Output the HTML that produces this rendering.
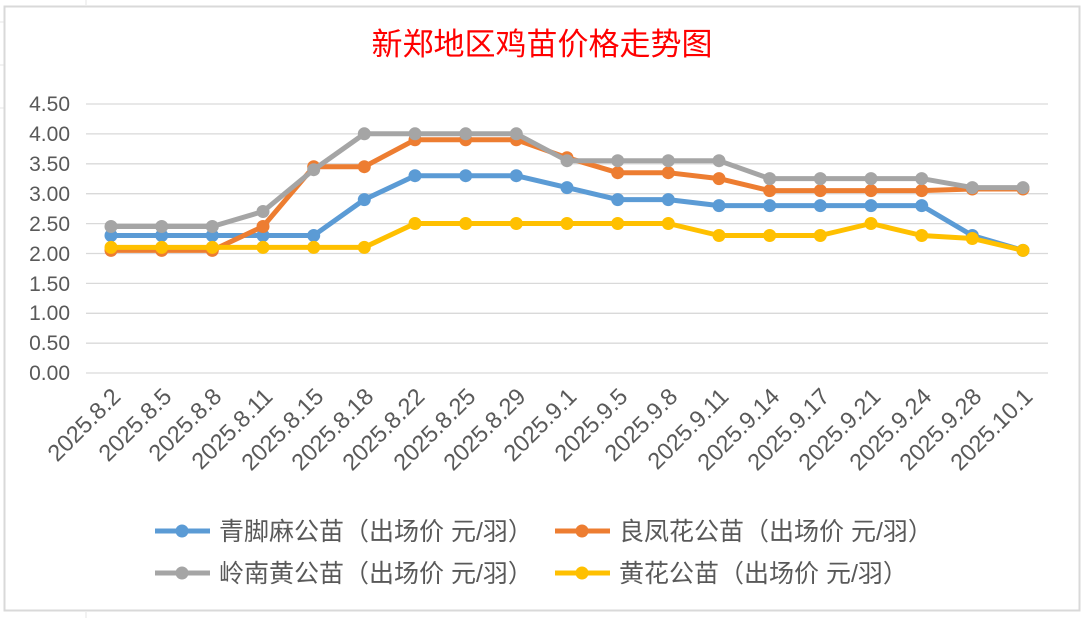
<!DOCTYPE html>
<html><head><meta charset="utf-8"><style>
html,body{margin:0;padding:0;background:#fff;}
svg{display:block;}
text{font-family:"Liberation Sans","Noto Sans CJK SC",sans-serif;}
</style></head><body>
<svg width="1085" height="618" viewBox="0 0 1085 618" xmlns="http://www.w3.org/2000/svg">
<rect x="0" y="0" width="1085" height="618" fill="#fff"/>
<g stroke="#e6e6e6" stroke-width="1">
<line x1="86" y1="0" x2="86" y2="5"/><line x1="0" y1="22" x2="4" y2="22"/><line x1="0" y1="65" x2="4" y2="65"/>
<line x1="86" y1="612" x2="86" y2="618"/><line x1="0" y1="108" x2="4" y2="108"/>
</g>
<rect x="4.5" y="6.5" width="1075" height="604" fill="#fff" stroke="#d9d9d9" stroke-width="2"/>
<text x="542" y="55" font-size="31" fill="#ff0000" text-anchor="middle" font-family="Liberation Serif,'Noto Serif CJK SC',serif">新郑地区鸡苗价格走势图</text>
<g stroke="#d9d9d9" stroke-width="1.3">
<line x1="86" y1="104" x2="1048" y2="104"/><line x1="86" y1="133.9" x2="1048" y2="133.9"/>
<line x1="86" y1="163.8" x2="1048" y2="163.8"/><line x1="86" y1="193.7" x2="1048" y2="193.7"/>
<line x1="86" y1="223.6" x2="1048" y2="223.6"/><line x1="86" y1="253.5" x2="1048" y2="253.5"/>
<line x1="86" y1="283.4" x2="1048" y2="283.4"/><line x1="86" y1="313.3" x2="1048" y2="313.3"/>
<line x1="86" y1="343.2" x2="1048" y2="343.2"/><line x1="86" y1="373" x2="1048" y2="373"/>
</g>
<g font-size="21" fill="#595959" text-anchor="end">
<text x="70" y="111">4.50</text><text x="70" y="141">4.00</text><text x="70" y="171">3.50</text>
<text x="70" y="201">3.00</text><text x="70" y="231">2.50</text><text x="70" y="261">2.00</text>
<text x="70" y="291">1.50</text><text x="70" y="320">1.00</text><text x="70" y="350">0.50</text>
<text x="70" y="380">0.00</text>
</g>
<g font-size="23.5" fill="#595959" text-anchor="end">
<text transform="translate(122,398) rotate(-45)">2025.8.2</text>
<text transform="translate(173,398) rotate(-45)">2025.8.5</text>
<text transform="translate(223,398) rotate(-45)">2025.8.8</text>
<text transform="translate(274,398) rotate(-45)">2025.8.11</text>
<text transform="translate(325,398) rotate(-45)">2025.8.15</text>
<text transform="translate(375,398) rotate(-45)">2025.8.18</text>
<text transform="translate(426,398) rotate(-45)">2025.8.22</text>
<text transform="translate(477,398) rotate(-45)">2025.8.25</text>
<text transform="translate(527,398) rotate(-45)">2025.8.29</text>
<text transform="translate(578,398) rotate(-45)">2025.9.1</text>
<text transform="translate(629,398) rotate(-45)">2025.9.5</text>
<text transform="translate(679,398) rotate(-45)">2025.9.8</text>
<text transform="translate(730,398) rotate(-45)">2025.9.11</text>
<text transform="translate(781,398) rotate(-45)">2025.9.14</text>
<text transform="translate(831,398) rotate(-45)">2025.9.17</text>
<text transform="translate(882,398) rotate(-45)">2025.9.21</text>
<text transform="translate(933,398) rotate(-45)">2025.9.24</text>
<text transform="translate(983,398) rotate(-45)">2025.9.28</text>
<text transform="translate(1034,398) rotate(-45)">2025.10.1</text>
</g>
<defs>
<marker id="mb" markerWidth="14" markerHeight="14" refX="7" refY="7" markerUnits="userSpaceOnUse"><circle cx="7" cy="7" r="6.5" fill="#5b9bd5"/></marker>
<marker id="mo" markerWidth="14" markerHeight="14" refX="7" refY="7" markerUnits="userSpaceOnUse"><circle cx="7" cy="7" r="6.5" fill="#ed7d31"/></marker>
<marker id="mg" markerWidth="14" markerHeight="14" refX="7" refY="7" markerUnits="userSpaceOnUse"><circle cx="7" cy="7" r="6.5" fill="#a5a5a5"/></marker>
<marker id="my" markerWidth="14" markerHeight="14" refX="7" refY="7" markerUnits="userSpaceOnUse"><circle cx="7" cy="7" r="6.5" fill="#ffc000"/></marker>
</defs>
<g fill="none" stroke-width="5" stroke-linejoin="round">
<polyline stroke="#5b9bd5" marker-start="url(#mb)" marker-mid="url(#mb)" marker-end="url(#mb)" points="111,235.5 161.7,235.5 212.3,235.5 263,235.5 313.7,235.5 364.3,199.6 415,175.7 465.7,175.7 516.3,175.7 567,187.6 617.7,199.6 668.3,199.6 719,205.6 769.7,205.6 820.3,205.6 871,205.6 921.7,205.6 972.3,235.5 1023,250.4"/>
<polyline stroke="#ed7d31" marker-start="url(#mo)" marker-mid="url(#mo)" marker-end="url(#mo)" points="111,250.4 161.7,250.4 212.3,250.4 263,226.5 313.7,166.7 364.3,166.7 415,139.8 465.7,139.8 516.3,139.8 567,157.7 617.7,172.7 668.3,172.7 719,178.6 769.7,190.6 820.3,190.6 871,190.6 921.7,190.6 972.3,189 1023,189"/>
<polyline stroke="#a5a5a5" marker-start="url(#mg)" marker-mid="url(#mg)" marker-end="url(#mg)" points="111,226.5 161.7,226.5 212.3,226.5 263,211.5 313.7,169.7 364.3,133.8 415,133.8 465.7,133.8 516.3,133.8 567,160.7 617.7,160.7 668.3,160.7 719,160.7 769.7,178.6 820.3,178.6 871,178.6 921.7,178.6 972.3,187.6 1023,187.6"/>
<polyline stroke="#ffc000" marker-start="url(#my)" marker-mid="url(#my)" marker-end="url(#my)" points="111,247.4 161.7,247.4 212.3,247.4 263,247.4 313.7,247.4 364.3,247.4 415,223.5 465.7,223.5 516.3,223.5 567,223.5 617.7,223.5 668.3,223.5 719,235.5 769.7,235.5 820.3,235.5 871,223.5 921.7,235.5 972.3,238.5 1023,250.4"/>
</g>
<g stroke-width="5">
<line x1="155" y1="531" x2="210" y2="531" stroke="#5b9bd5"/><circle cx="182" cy="531" r="6.5" fill="#5b9bd5"/>
<line x1="555" y1="531" x2="610" y2="531" stroke="#ed7d31"/><circle cx="582" cy="531" r="6.5" fill="#ed7d31"/>
<line x1="155" y1="573" x2="210" y2="573" stroke="#a5a5a5"/><circle cx="182" cy="573" r="6.5" fill="#a5a5a5"/>
<line x1="555" y1="573" x2="610" y2="573" stroke="#ffc000"/><circle cx="582" cy="573" r="6.5" fill="#ffc000"/>
</g>
<g font-size="25" fill="#595959">
<text x="219" y="540">青脚麻公苗（出场价 元/羽）</text>
<text x="619" y="540">良凤花公苗（出场价 元/羽）</text>
<text x="219" y="582">岭南黄公苗（出场价 元/羽）</text>
<text x="619" y="582">黄花公苗（出场价 元/羽）</text>
</g>
</svg>
</body></html>
